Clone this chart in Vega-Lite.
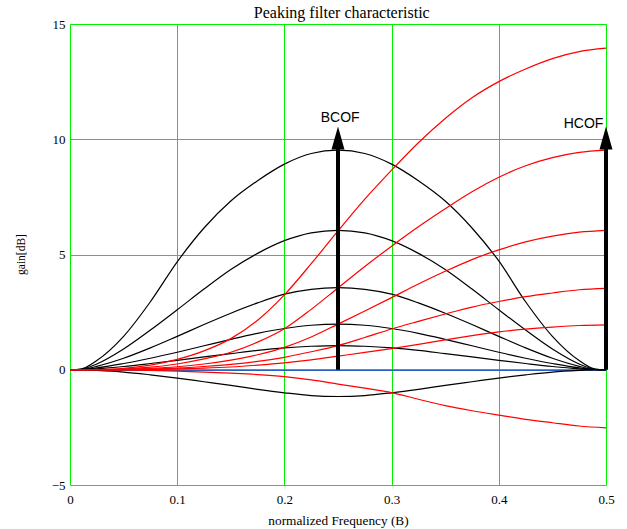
{
  "$schema": "https://vega.github.io/schema/vega-lite/v6.json",
  "width": 536,
  "height": 461,
  "autosize": {"type": "none"},
  "padding": {"left": 70, "top": 24, "right": 21, "bottom": 44},
  "background": "white",
  "config": {"view": {"stroke": null}},
  "datasets": {
    "curves": [
      {"curve":"zero","f":0,"gain":0},{"curve":"zero","f":0.5,"gain":0},
      {"curve":"p1","f":0,"gain":0},{"curve":"p1","f":0.01,"gain":0.03},{"curve":"p1","f":0.025,"gain":0.4},{"curve":"p1","f":0.05,"gain":1.45},{"curve":"p1","f":0.075,"gain":2.95},{"curve":"p1","f":0.1,"gain":4.68},{"curve":"p1","f":0.125,"gain":6.15},{"curve":"p1","f":0.15,"gain":7.32},{"curve":"p1","f":0.175,"gain":8.2},{"curve":"p1","f":0.2,"gain":8.92},{"curve":"p1","f":0.225,"gain":9.38},{"curve":"p1","f":0.25,"gain":9.53},{"curve":"p1","f":0.275,"gain":9.38},{"curve":"p1","f":0.3,"gain":8.92},{"curve":"p1","f":0.325,"gain":8.2},{"curve":"p1","f":0.35,"gain":7.32},{"curve":"p1","f":0.375,"gain":6.15},{"curve":"p1","f":0.4,"gain":4.72},{"curve":"p1","f":0.425,"gain":2.95},{"curve":"p1","f":0.45,"gain":1.45},{"curve":"p1","f":0.475,"gain":0.4},{"curve":"p1","f":0.49,"gain":0.03},{"curve":"p1","f":0.5,"gain":0},
      {"curve":"p2","f":0,"gain":0},{"curve":"p2","f":0.01,"gain":0.02},{"curve":"p2","f":0.025,"gain":0.25},{"curve":"p2","f":0.05,"gain":0.9},{"curve":"p2","f":0.075,"gain":1.72},{"curve":"p2","f":0.1,"gain":2.6},{"curve":"p2","f":0.125,"gain":3.5},{"curve":"p2","f":0.15,"gain":4.35},{"curve":"p2","f":0.175,"gain":5.05},{"curve":"p2","f":0.2,"gain":5.6},{"curve":"p2","f":0.225,"gain":5.94},{"curve":"p2","f":0.25,"gain":6.05},{"curve":"p2","f":0.275,"gain":5.94},{"curve":"p2","f":0.3,"gain":5.6},{"curve":"p2","f":0.325,"gain":5.05},{"curve":"p2","f":0.35,"gain":4.35},{"curve":"p2","f":0.375,"gain":3.5},{"curve":"p2","f":0.4,"gain":2.6},{"curve":"p2","f":0.425,"gain":1.72},{"curve":"p2","f":0.45,"gain":0.9},{"curve":"p2","f":0.475,"gain":0.25},{"curve":"p2","f":0.49,"gain":0.02},{"curve":"p2","f":0.5,"gain":0},
      {"curve":"p3","f":0,"gain":0},{"curve":"p3","f":0.01,"gain":0.01},{"curve":"p3","f":0.025,"gain":0.15},{"curve":"p3","f":0.05,"gain":0.5},{"curve":"p3","f":0.075,"gain":0.95},{"curve":"p3","f":0.1,"gain":1.45},{"curve":"p3","f":0.125,"gain":1.96},{"curve":"p3","f":0.15,"gain":2.45},{"curve":"p3","f":0.175,"gain":2.9},{"curve":"p3","f":0.2,"gain":3.28},{"curve":"p3","f":0.225,"gain":3.49},{"curve":"p3","f":0.25,"gain":3.56},{"curve":"p3","f":0.275,"gain":3.49},{"curve":"p3","f":0.3,"gain":3.28},{"curve":"p3","f":0.325,"gain":2.9},{"curve":"p3","f":0.35,"gain":2.45},{"curve":"p3","f":0.375,"gain":1.96},{"curve":"p3","f":0.4,"gain":1.45},{"curve":"p3","f":0.425,"gain":0.95},{"curve":"p3","f":0.45,"gain":0.5},{"curve":"p3","f":0.475,"gain":0.15},{"curve":"p3","f":0.49,"gain":0.01},{"curve":"p3","f":0.5,"gain":0},
      {"curve":"p4","f":0,"gain":0},{"curve":"p4","f":0.01,"gain":0.01},{"curve":"p4","f":0.025,"gain":0.08},{"curve":"p4","f":0.05,"gain":0.27},{"curve":"p4","f":0.075,"gain":0.5},{"curve":"p4","f":0.1,"gain":0.76},{"curve":"p4","f":0.125,"gain":1.04},{"curve":"p4","f":0.15,"gain":1.32},{"curve":"p4","f":0.175,"gain":1.58},{"curve":"p4","f":0.2,"gain":1.79},{"curve":"p4","f":0.225,"gain":1.93},{"curve":"p4","f":0.25,"gain":1.98},{"curve":"p4","f":0.275,"gain":1.93},{"curve":"p4","f":0.3,"gain":1.79},{"curve":"p4","f":0.325,"gain":1.58},{"curve":"p4","f":0.35,"gain":1.32},{"curve":"p4","f":0.375,"gain":1.04},{"curve":"p4","f":0.4,"gain":0.76},{"curve":"p4","f":0.425,"gain":0.5},{"curve":"p4","f":0.45,"gain":0.27},{"curve":"p4","f":0.475,"gain":0.08},{"curve":"p4","f":0.49,"gain":0.01},{"curve":"p4","f":0.5,"gain":0},
      {"curve":"p5","f":0,"gain":0},{"curve":"p5","f":0.01,"gain":0},{"curve":"p5","f":0.025,"gain":0.04},{"curve":"p5","f":0.05,"gain":0.14},{"curve":"p5","f":0.075,"gain":0.27},{"curve":"p5","f":0.1,"gain":0.41},{"curve":"p5","f":0.125,"gain":0.56},{"curve":"p5","f":0.15,"gain":0.7},{"curve":"p5","f":0.175,"gain":0.84},{"curve":"p5","f":0.2,"gain":0.95},{"curve":"p5","f":0.225,"gain":1.02},{"curve":"p5","f":0.25,"gain":1.05},{"curve":"p5","f":0.275,"gain":1.02},{"curve":"p5","f":0.3,"gain":0.95},{"curve":"p5","f":0.325,"gain":0.84},{"curve":"p5","f":0.35,"gain":0.7},{"curve":"p5","f":0.375,"gain":0.56},{"curve":"p5","f":0.4,"gain":0.41},{"curve":"p5","f":0.425,"gain":0.27},{"curve":"p5","f":0.45,"gain":0.14},{"curve":"p5","f":0.475,"gain":0.04},{"curve":"p5","f":0.49,"gain":0},{"curve":"p5","f":0.5,"gain":0},
      {"curve":"p6","f":0,"gain":0},{"curve":"p6","f":0.01,"gain":0},{"curve":"p6","f":0.025,"gain":-0.03},{"curve":"p6","f":0.05,"gain":-0.1},{"curve":"p6","f":0.075,"gain":-0.22},{"curve":"p6","f":0.1,"gain":-0.36},{"curve":"p6","f":0.125,"gain":-0.52},{"curve":"p6","f":0.15,"gain":-0.68},{"curve":"p6","f":0.175,"gain":-0.85},{"curve":"p6","f":0.2,"gain":-1.0},{"curve":"p6","f":0.225,"gain":-1.12},{"curve":"p6","f":0.25,"gain":-1.16},{"curve":"p6","f":0.275,"gain":-1.12},{"curve":"p6","f":0.3,"gain":-1.0},{"curve":"p6","f":0.325,"gain":-0.85},{"curve":"p6","f":0.35,"gain":-0.68},{"curve":"p6","f":0.375,"gain":-0.52},{"curve":"p6","f":0.4,"gain":-0.36},{"curve":"p6","f":0.425,"gain":-0.22},{"curve":"p6","f":0.45,"gain":-0.1},{"curve":"p6","f":0.475,"gain":-0.03},{"curve":"p6","f":0.49,"gain":0},{"curve":"p6","f":0.5,"gain":0},
      {"curve":"s1","f":0,"gain":0},{"curve":"s1","f":0.025,"gain":0.01},{"curve":"s1","f":0.05,"gain":0.06},{"curve":"s1","f":0.075,"gain":0.2},{"curve":"s1","f":0.1,"gain":0.45},{"curve":"s1","f":0.125,"gain":0.82},{"curve":"s1","f":0.15,"gain":1.35},{"curve":"s1","f":0.175,"gain":2.15},{"curve":"s1","f":0.2,"gain":3.25},{"curve":"s1","f":0.225,"gain":4.6},{"curve":"s1","f":0.25,"gain":6.02},{"curve":"s1","f":0.275,"gain":7.4},{"curve":"s1","f":0.3,"gain":8.66},{"curve":"s1","f":0.325,"gain":9.85},{"curve":"s1","f":0.35,"gain":10.9},{"curve":"s1","f":0.375,"gain":11.8},{"curve":"s1","f":0.4,"gain":12.5},{"curve":"s1","f":0.425,"gain":13.05},{"curve":"s1","f":0.45,"gain":13.5},{"curve":"s1","f":0.475,"gain":13.8},{"curve":"s1","f":0.5,"gain":13.95},
      {"curve":"s2","f":0,"gain":0},{"curve":"s2","f":0.025,"gain":0.005},{"curve":"s2","f":0.05,"gain":0.03},{"curve":"s2","f":0.075,"gain":0.11},{"curve":"s2","f":0.1,"gain":0.25},{"curve":"s2","f":0.125,"gain":0.47},{"curve":"s2","f":0.15,"gain":0.76},{"curve":"s2","f":0.175,"gain":1.2},{"curve":"s2","f":0.2,"gain":1.78},{"curve":"s2","f":0.225,"gain":2.62},{"curve":"s2","f":0.25,"gain":3.55},{"curve":"s2","f":0.275,"gain":4.48},{"curve":"s2","f":0.3,"gain":5.36},{"curve":"s2","f":0.325,"gain":6.2},{"curve":"s2","f":0.35,"gain":6.98},{"curve":"s2","f":0.375,"gain":7.72},{"curve":"s2","f":0.4,"gain":8.35},{"curve":"s2","f":0.425,"gain":8.85},{"curve":"s2","f":0.45,"gain":9.2},{"curve":"s2","f":0.475,"gain":9.43},{"curve":"s2","f":0.5,"gain":9.53},
      {"curve":"s3","f":0,"gain":0},{"curve":"s3","f":0.025,"gain":0},{"curve":"s3","f":0.05,"gain":0.02},{"curve":"s3","f":0.075,"gain":0.06},{"curve":"s3","f":0.1,"gain":0.13},{"curve":"s3","f":0.125,"gain":0.25},{"curve":"s3","f":0.15,"gain":0.42},{"curve":"s3","f":0.175,"gain":0.65},{"curve":"s3","f":0.2,"gain":0.97},{"curve":"s3","f":0.225,"gain":1.42},{"curve":"s3","f":0.25,"gain":1.98},{"curve":"s3","f":0.275,"gain":2.55},{"curve":"s3","f":0.3,"gain":3.13},{"curve":"s3","f":0.325,"gain":3.72},{"curve":"s3","f":0.35,"gain":4.27},{"curve":"s3","f":0.375,"gain":4.78},{"curve":"s3","f":0.4,"gain":5.2},{"curve":"s3","f":0.425,"gain":5.55},{"curve":"s3","f":0.45,"gain":5.8},{"curve":"s3","f":0.475,"gain":5.97},{"curve":"s3","f":0.5,"gain":6.05},
      {"curve":"s4","f":0,"gain":0},{"curve":"s4","f":0.025,"gain":0},{"curve":"s4","f":0.05,"gain":0.01},{"curve":"s4","f":0.075,"gain":0.03},{"curve":"s4","f":0.1,"gain":0.07},{"curve":"s4","f":0.125,"gain":0.14},{"curve":"s4","f":0.15,"gain":0.23},{"curve":"s4","f":0.175,"gain":0.36},{"curve":"s4","f":0.2,"gain":0.54},{"curve":"s4","f":0.225,"gain":0.78},{"curve":"s4","f":0.25,"gain":1.05},{"curve":"s4","f":0.275,"gain":1.4},{"curve":"s4","f":0.3,"gain":1.77},{"curve":"s4","f":0.325,"gain":2.1},{"curve":"s4","f":0.35,"gain":2.42},{"curve":"s4","f":0.375,"gain":2.72},{"curve":"s4","f":0.4,"gain":2.96},{"curve":"s4","f":0.425,"gain":3.17},{"curve":"s4","f":0.45,"gain":3.33},{"curve":"s4","f":0.475,"gain":3.47},{"curve":"s4","f":0.5,"gain":3.53},
      {"curve":"s5","f":0,"gain":0},{"curve":"s5","f":0.025,"gain":0},{"curve":"s5","f":0.05,"gain":0.005},{"curve":"s5","f":0.075,"gain":0.015},{"curve":"s5","f":0.1,"gain":0.04},{"curve":"s5","f":0.125,"gain":0.07},{"curve":"s5","f":0.15,"gain":0.12},{"curve":"s5","f":0.175,"gain":0.2},{"curve":"s5","f":0.2,"gain":0.3},{"curve":"s5","f":0.225,"gain":0.43},{"curve":"s5","f":0.25,"gain":0.59},{"curve":"s5","f":0.275,"gain":0.75},{"curve":"s5","f":0.3,"gain":0.92},{"curve":"s5","f":0.325,"gain":1.1},{"curve":"s5","f":0.35,"gain":1.3},{"curve":"s5","f":0.375,"gain":1.48},{"curve":"s5","f":0.4,"gain":1.64},{"curve":"s5","f":0.425,"gain":1.76},{"curve":"s5","f":0.45,"gain":1.85},{"curve":"s5","f":0.475,"gain":1.92},{"curve":"s5","f":0.5,"gain":1.95},
      {"curve":"s6","f":0,"gain":0},{"curve":"s6","f":0.025,"gain":0},{"curve":"s6","f":0.05,"gain":-0.01},{"curve":"s6","f":0.075,"gain":-0.03},{"curve":"s6","f":0.1,"gain":-0.06},{"curve":"s6","f":0.125,"gain":-0.1},{"curve":"s6","f":0.15,"gain":-0.15},{"curve":"s6","f":0.175,"gain":-0.21},{"curve":"s6","f":0.2,"gain":-0.3},{"curve":"s6","f":0.225,"gain":-0.44},{"curve":"s6","f":0.25,"gain":-0.62},{"curve":"s6","f":0.275,"gain":-0.8},{"curve":"s6","f":0.3,"gain":-0.99},{"curve":"s6","f":0.325,"gain":-1.28},{"curve":"s6","f":0.35,"gain":-1.56},{"curve":"s6","f":0.375,"gain":-1.78},{"curve":"s6","f":0.4,"gain":-1.97},{"curve":"s6","f":0.425,"gain":-2.15},{"curve":"s6","f":0.45,"gain":-2.3},{"curve":"s6","f":0.475,"gain":-2.44},{"curve":"s6","f":0.5,"gain":-2.52}
    ],
    "arrows": [
      {"name":"BCOF","f":0.25,"base":0,"shaft":9.6,"head":10.05,"labelF":0.252,"labelGain":10.76},
      {"name":"HCOF","f":0.5,"base":0,"shaft":9.6,"head":10.05,"labelF":0.479,"labelGain":10.5}
    ],
    "heading": [
      {"text":"Peaking filter characteristic","f":0.2535,"gain":15.25}
    ]
  },
  "encoding": {
    "x": {"type": "quantitative", "scale": {"domain": [0, 0.5], "nice": false, "zero": false}},
    "y": {"type": "quantitative", "scale": {"domain": [-5, 15], "nice": false}}
  },
  "layer": [
    {
      "data": {"name": "curves"},
      "transform": [{"filter": "datum.curve != 'zero'"}],
      "mark": {"type": "rule", "opacity": 0},
      "encoding": {
        "x": {"field": "f", "type": "quantitative", "scale": {"domain": [0, 0.5], "nice": false, "zero": false},
          "axis": {"values": [0, 0.1, 0.2, 0.3, 0.4, 0.5], "labelExpr": "format(datum.value, '~g')", "grid": true, "gridColor": "#00f000", "gridWidth": 1, "gridOpacity": 1, "domain": false, "ticks": false, "tickSize": 0, "labelFont": "Liberation Serif", "labelFontSize": 13, "labelColor": "black", "labelPadding": 8, "labelFlush": false, "title": "normalized Frequency (B)", "titleFont": "Liberation Serif", "titleFontSize": 13.3, "titleFontWeight": "normal", "titleColor": "black", "titleBaseline": "alphabetic", "titleY": 39, "titleX": 268, "titleAlign": "center"}},
        "y": {"field": "gain", "type": "quantitative", "scale": {"domain": [-5, 15], "nice": false},
          "axis": {"values": [-5, 0, 5, 10, 15], "grid": true, "gridColor": {"condition": {"test": "datum.value === 0", "value": "#2a62c0"}, "value": "#00f000"}, "gridWidth": 1, "gridOpacity": 1, "domain": false, "ticks": false, "tickSize": 0, "labelFont": "Liberation Serif", "labelFontSize": 13, "labelColor": "black", "labelPadding": 5, "labelFlush": false, "title": "gain[dB]", "titleFont": "Liberation Serif", "titleFontSize": 11.5, "titleFontWeight": "normal", "titleColor": "black", "titleX": -44, "titleY": 230, "titleAlign": "center", "titleBaseline": "bottom"}}
      }
    },
    {
      "data": {"name": "curves"},
      "mark": {"type": "line", "strokeWidth": 1.2, "interpolate": "monotone"},
      "encoding": {
        "x": {"field": "f", "type": "quantitative"},
        "y": {"field": "gain", "type": "quantitative"},
        "detail": {"field": "curve"},
        "order": {"field": "f", "type": "quantitative"},
        "color": {"field": "curve", "type": "nominal", "legend": null,
          "scale": {"domain": ["zero","p1","p2","p3","p4","p5","p6","s1","s2","s3","s4","s5","s6"],
                    "range": ["#2a62c0","#000000","#000000","#000000","#000000","#000000","#000000","#ff0000","#ff0000","#ff0000","#ff0000","#ff0000","#ff0000"]}}
      }
    },
    {
      "data": {"name": "arrows"},
      "mark": {"type": "rule", "strokeWidth": 4, "color": "black"},
      "encoding": {
        "x": {"field": "f", "type": "quantitative"},
        "y": {"field": "base", "type": "quantitative"},
        "y2": {"field": "shaft"}
      }
    },
    {
      "data": {"name": "arrows"},
      "mark": {"type": "point", "shape": "M0,-1L0.565,1L-0.565,1Z", "filled": true, "color": "black", "opacity": 1, "size": 529, "strokeWidth": 0},
      "encoding": {
        "x": {"field": "f", "type": "quantitative"},
        "y": {"field": "head", "type": "quantitative"}
      }
    },
    {
      "data": {"name": "arrows"},
      "mark": {"type": "text", "font": "Liberation Sans", "fontSize": 14, "color": "black", "align": "center", "baseline": "alphabetic"},
      "encoding": {
        "x": {"field": "labelF", "type": "quantitative"},
        "y": {"field": "labelGain", "type": "quantitative"},
        "text": {"field": "name"}
      }
    },
    {
      "data": {"name": "heading"},
      "mark": {"type": "text", "font": "Liberation Serif", "fontSize": 16, "color": "black", "align": "center", "baseline": "alphabetic"},
      "encoding": {
        "x": {"field": "f", "type": "quantitative"},
        "y": {"field": "gain", "type": "quantitative"},
        "text": {"field": "text"}
      }
    },
    {
      "mark": {"type": "rule", "color": "black", "strokeWidth": 1.5},
      "encoding": {"y": {"datum": 15}}
    },
    {
      "mark": {"type": "rule", "color": "black", "strokeWidth": 1.5},
      "encoding": {"x": {"datum": 0}}
    },
    {
      "mark": {"type": "rule", "color": "#2e6b2e", "strokeWidth": 1.5},
      "encoding": {"y": {"datum": -5}}
    },
    {
      "mark": {"type": "rule", "color": "#2e6b2e", "strokeWidth": 1.5},
      "encoding": {"x": {"datum": 0.5}}
    }
  ]
}
